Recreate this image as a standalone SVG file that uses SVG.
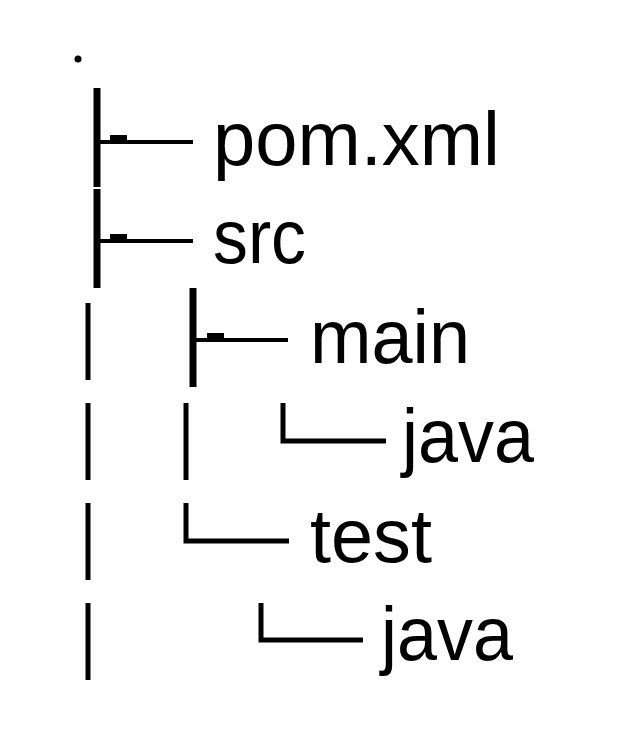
<svg xmlns="http://www.w3.org/2000/svg" width="640" height="748" viewBox="0 0 640 748">
<style>
text{font-family:"Liberation Sans","Open Sans",sans-serif;font-size:76px;fill:#000}
.thick{stroke:#000;stroke-width:7;fill:none}
.thin{stroke:#000;stroke-width:5;fill:none}
.h{stroke:#000;stroke-width:4;fill:none}
</style>
<rect width="640" height="748" fill="#fff"/>
<g id="connectors">
<circle cx="78" cy="59" r="3.5" fill="#000"/>
<line class="thick" x1="97" y1="88" x2="97" y2="187"/>
<line class="h" x1="97" y1="142" x2="193" y2="142"/>
<rect x="110" y="135" width="17" height="8"/>
<line class="thick" x1="97" y1="189" x2="97" y2="288"/>
<line class="h" x1="97" y1="241" x2="193" y2="241"/>
<rect x="110" y="234" width="17" height="8"/>
<line class="thick" x1="193" y1="288" x2="193" y2="387"/>
<line class="h" x1="193" y1="340" x2="288" y2="340"/>
<rect x="207" y="333" width="17" height="8"/>
<line class="thin" x1="88" y1="303" x2="88" y2="380"/>
<line class="thin" x1="88" y1="403" x2="88" y2="480"/>
<line class="thin" x1="88" y1="503" x2="88" y2="580"/>
<line class="thin" x1="88" y1="603" x2="88" y2="680"/>
<line class="thin" x1="186" y1="403" x2="186" y2="480"/>
<path class="thin" d="M283 403V441H386"/>
<path class="thin" d="M186 503V541H289"/>
<path class="thin" d="M261 603V640H363"/>
</g>
<g id="pom"><text x="213" y="165" textLength="287" lengthAdjust="spacingAndGlyphs">pom.xml</text></g>
<g id="src"><text x="213" y="263" textLength="93" lengthAdjust="spacingAndGlyphs">src</text></g>
<g id="main"><text x="310" y="363" textLength="160" lengthAdjust="spacingAndGlyphs">main</text></g>
<g id="main-java"><text x="402" y="462" textLength="132" lengthAdjust="spacingAndGlyphs">java</text></g>
<g id="test"><text x="310" y="562" textLength="122" lengthAdjust="spacingAndGlyphs">test</text></g>
<g id="test-java"><text x="381" y="660" textLength="132" lengthAdjust="spacingAndGlyphs">java</text></g>
</svg>
